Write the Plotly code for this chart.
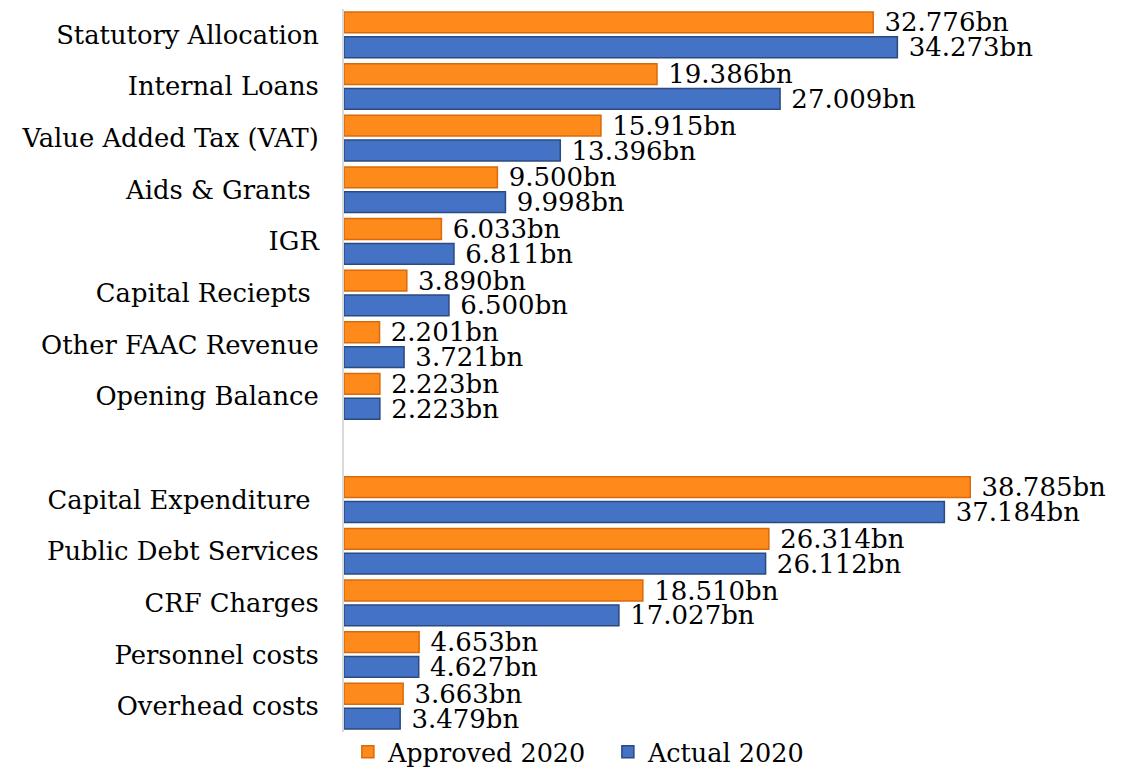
import plotly.graph_objects as go

categories = ["Statutory Allocation", "Internal Loans", "Value Added Tax (VAT)", "Aids & Grants ",
              "IGR", "Capital Reciepts ", "Other FAAC Revenue", "Opening Balance", " ",
              "Capital Expenditure ", "Public Debt Services", "CRF Charges", "Personnel costs",
              "Overhead costs"]
approved_2020 = [32.776, 19.386, 15.915, 9.500, 6.033, 3.890, 2.201, 2.223, None,
                 38.785, 26.314, 18.510, 4.653, 3.663]
actual_2020 = [34.273, 27.009, 13.396, 9.998, 6.811, 6.500, 3.721, 2.223, None,
               37.184, 26.112, 17.027, 4.627, 3.479]

FONT = "DejaVu Serif"

def labels(vals):
    return ["" if v is None else " %.3fbn" % v for v in vals]

fig = go.Figure()
fig.add_trace(go.Bar(
    y=categories, x=approved_2020, orientation="h", name="Approved 2020",
    marker=dict(color="#FF8A1C", line=dict(color="#D96A0A", width=1.5)),
    text=labels(approved_2020), textposition="outside", cliponaxis=False,
    constraintext="none",
    textfont=dict(family=FONT, size=26, color="#000000"),
))
fig.add_trace(go.Bar(
    y=categories, x=actual_2020, orientation="h", name="Actual 2020",
    marker=dict(color="#4472C4", line=dict(color="#2B4A80", width=1.5)),
    text=labels(actual_2020), textposition="outside", cliponaxis=False,
    constraintext="none",
    textfont=dict(family=FONT, size=26, color="#000000"),
))

fig.update_layout(
    width=1113, height=762,
    margin=dict(l=336, r=2, t=1, b=38, autoexpand=False),
    paper_bgcolor="white", plot_bgcolor="white",
    barmode="group", bargap=0.04, bargroupgap=0.16,
    font=dict(family=FONT, size=25.5, color="#000000"),
    showlegend=True,
    legend=dict(orientation="h", x=0.005, xanchor="left", y=-0.028, yanchor="middle",
                font=dict(family=FONT, size=25.5), traceorder="normal",
                entrywidth=215, entrywidthmode="pixels",
                itemwidth=30, bgcolor="rgba(0,0,0,0)"),
)
fig.update_xaxes(range=[0, 48], showticklabels=False, showgrid=False, zeroline=False,
                 showline=False, fixedrange=True)
fig.update_yaxes(autorange="reversed", categoryorder="array", categoryarray=categories,
                 showline=True, linecolor="#D9D9D9", linewidth=2, showgrid=False,
                 ticks="", ticklabelstandoff=18, automargin=False,
                 tickfont=dict(family=FONT, size=25.8))

fig.write_html("out.html")
